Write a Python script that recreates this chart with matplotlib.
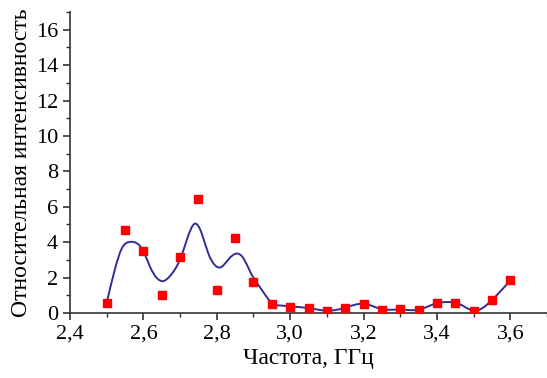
import numpy as np
import matplotlib
matplotlib.use("Agg")
import matplotlib.pyplot as plt
from matplotlib.path import Path
from matplotlib.patches import PathPatch
from matplotlib.ticker import MultipleLocator, FuncFormatter

# measured points
freq = [2.50, 2.55, 2.60, 2.65, 2.70, 2.75, 2.80, 2.85, 2.90, 2.95,
        3.00, 3.05, 3.10, 3.15, 3.20, 3.25, 3.30, 3.35, 3.40, 3.45,
        3.50, 3.55, 3.60]
intens = [0.58, 4.68, 3.53, 1.01, 3.15, 6.46, 1.31, 4.24, 1.76, 0.52,
          0.34, 0.30, 0.11, 0.30, 0.52, 0.17, 0.21, 0.17, 0.58, 0.58,
          0.13, 0.73, 1.84]

# smooth curve
curve_x = [2.50, 2.523, 2.541, 2.565, 2.60, 2.618, 2.636, 2.654, 2.673, 2.702,
           2.718, 2.741, 2.759, 2.777, 2.795, 2.809, 2.832, 2.855, 2.873, 2.891,
           2.923, 2.951, 2.975, 3.00, 3.05, 3.10, 3.15, 3.20, 3.25, 3.30,
           3.35, 3.40, 3.43, 3.46, 3.50, 3.55, 3.60]
curve_y = [0.58, 2.52, 3.64, 4.02, 3.49, 2.61, 1.99, 1.80, 2.10, 3.14,
           4.11, 5.05, 4.49, 3.36, 2.70, 2.57, 3.03, 3.36, 3.08, 2.33,
           1.30, 0.55, 0.42, 0.37, 0.28, 0.13, 0.30, 0.52, 0.22, 0.19,
           0.19, 0.55, 0.62, 0.52, 0.13, 0.73, 1.84]


def smooth_path(xs, ys):
    # natural cubic spline through the knots, drawn as bezier segments
    xs = np.asarray(xs, float)
    ys = np.asarray(ys, float)
    n = len(xs)
    h = np.diff(xs)
    d = np.diff(ys) / h
    A = np.zeros((n, n))
    r = np.zeros(n)
    A[0, 0] = A[-1, -1] = 1
    for i in range(1, n - 1):
        A[i, i - 1] = h[i - 1]
        A[i, i] = 2 * (h[i - 1] + h[i])
        A[i, i + 1] = h[i]
        r[i] = 6 * (d[i] - d[i - 1])
    M = np.linalg.solve(A, r)
    m = np.zeros(n)
    m[:-1] = d - h * (2 * M[:-1] + M[1:]) / 6
    m[-1] = d[-1] + h[-1] * (M[-2] + 2 * M[-1]) / 6
    verts = [(xs[0], ys[0])]
    codes = [Path.MOVETO]
    for i in range(n - 1):
        verts += [(xs[i] + h[i] / 3, ys[i] + m[i] * h[i] / 3),
                  (xs[i + 1] - h[i] / 3, ys[i + 1] - m[i + 1] * h[i] / 3),
                  (xs[i + 1], ys[i + 1])]
        codes += [Path.CURVE4] * 3
    return Path(verts, codes)


plt.rcParams['font.family'] = ['Liberation Serif', 'DejaVu Serif']
plt.rcParams['font.size'] = 14

fig = plt.figure(figsize=(5.47, 3.78), dpi=100)
ax = fig.add_axes([0.128, 0.172, 0.872, 0.796])

ax.add_patch(PathPatch(smooth_path(curve_x, curve_y), fill=False,
                       edgecolor="#2e2e9a", lw=1.4, zorder=2))
ax.plot(freq, intens, "s", color="#ff0000", ms=6, mec="#ff0000", zorder=3)

ax.set_xlim(2.4, 3.7)
ax.set_ylim(0, 17)
ax.xaxis.set_major_locator(MultipleLocator(0.2))
ax.xaxis.set_minor_locator(MultipleLocator(0.1))
ax.yaxis.set_major_locator(MultipleLocator(2))
ax.yaxis.set_minor_locator(MultipleLocator(1))
ax.xaxis.set_major_formatter(FuncFormatter(lambda v, p: f"{v:.1f}".replace(".", ",")))
ax.yaxis.set_major_formatter(FuncFormatter(lambda v, p: f"{v:.0f}"))

for s in ("top", "right"):
    ax.spines[s].set_visible(False)
for s in ("left", "bottom"):
    ax.spines[s].set_color("#333333")
    ax.spines[s].set_linewidth(1.2)
ax.tick_params(which="major", length=5, width=1.2, color="#333333", labelsize=16)
ax.tick_params(which="minor", length=3, width=1.0, color="#333333")

ax.set_xlabel("Частота, ГГц", fontsize=17, labelpad=3)
ax.set_ylabel("Относительная интенсивность", fontsize=17, labelpad=3)

fig.savefig("out.png", dpi=100)
